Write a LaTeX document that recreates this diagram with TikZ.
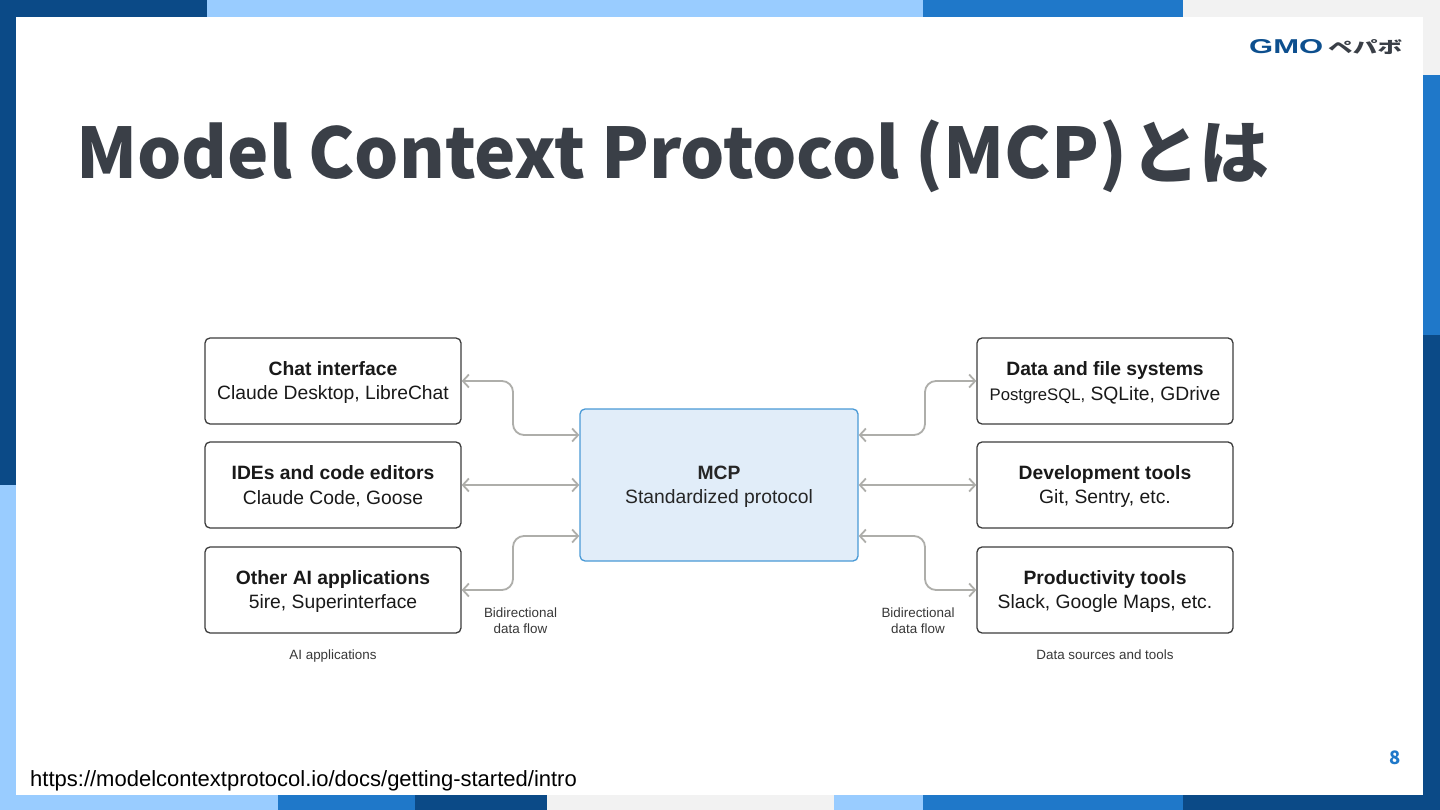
\documentclass[tikz,border=0pt]{standalone}
\usepackage{fontspec}
\usepackage{graphicx}
\setmainfont{Liberation Sans}
\newfontfamily\jpfont{Noto Sans CJK JP}
\usetikzlibrary{arrows.meta,calc}
\definecolor{bandDark}{HTML}{0B4A87}
\definecolor{bandMid}{HTML}{1F78C9}
\definecolor{bandLight}{HTML}{99CCFF}
\definecolor{bandGray}{HTML}{F2F2F2}
\definecolor{titleInk}{HTML}{3A3F47}
\definecolor{flowGray}{HTML}{AEAEAA}
\definecolor{mcpFill}{HTML}{E1EDF9}
\definecolor{mcpLine}{HTML}{4A9AD6}
\definecolor{boxLine}{HTML}{3C3C3C}
\def\topgap{\rule{0pt}{17pt}}
\tikzset{
	toolbox/.style={draw=boxLine, line width=1.3pt, rounded corners=5pt, minimum width=256pt, minimum height=86pt, inner sep=0pt, align=center, text=black!90, font=\fontsize{19.3}{24.8}\selectfont},
	mcpbox/.style={draw=mcpLine, fill=mcpFill, line width=1.3pt, rounded corners=5pt, minimum width=278pt, minimum height=152pt, inner sep=0pt, align=center, text=black!85, font=\fontsize{19.3}{24.8}\selectfont},
	flow/.style={draw=flowGray, line width=1.8pt, rounded corners=11pt, {Straight Barb[length=6pt,width=13pt]}-{Straight Barb[length=6pt,width=13pt]}},
	smalltext/.style={align=center, text=black!78, font=\fontsize{13.4}{16}\selectfont}
}
\begin{document}
\begin{tikzpicture}[x=1pt,y=-1pt]
	%%%%% FRAME %%%%%
	\useasboundingbox (0,0) rectangle (1440,810);
	\fill[white] (0,0) rectangle (1440,810);

	\fill[bandDark] (0,0) rectangle (207,17);
	\fill[bandLight] (207,0) rectangle (923,17);
	\fill[bandMid] (923,0) rectangle (1183,17);
	\fill[bandGray] (1183,0) rectangle (1440,17);

	\fill[bandDark] (0,0) rectangle (16,485);
	\fill[bandLight] (0,485) rectangle (16,810);

	\fill[bandGray] (1423,0) rectangle (1440,75);
	\fill[bandMid] (1423,75) rectangle (1440,335);
	\fill[bandDark] (1423,335) rectangle (1440,810);

	\fill[bandLight] (0,795) rectangle (278,810);
	\fill[bandMid] (278,795) rectangle (415,810);
	\fill[bandDark] (415,795) rectangle (547,810);
	\fill[bandGray] (547,795) rectangle (834,810);
	\fill[bandLight] (834,795) rectangle (923,810);
	\fill[bandMid] (923,795) rectangle (1183,810);
	\fill[bandDark] (1183,795) rectangle (1440,810);

	%%%%% HEADER %%%%%
	\node[anchor=base west, inner sep=0pt, text=titleInk, font=\jpfont\bfseries\fontsize{69.75}{80}\selectfont] (title) at (76,179) {Model Context Protocol (MCP)\hspace{3pt}とは};
	\node[anchor=west, inner sep=0pt, text=bandDark!90!bandMid] (logoa) at (1249,47) {\resizebox{74pt}{14pt}{\bfseries GMO}};
	\node[anchor=west, inner sep=0pt, text=titleInk] (logob) at (1328,47) {\resizebox{74pt}{14pt}{\jpfont\bfseries ペパボ}};

	%%%%% BOXES %%%%%
	\node[toolbox] (chat) at (333,381) {\topgap\textbf{Chat interface}\\Claude Desktop, LibreChat};
	\node[toolbox] (ide) at (333,485) {\topgap\textbf{IDEs and code editors}\\Claude Code, Goose};
	\node[toolbox] (other) at (333,590) {\topgap\textbf{Other AI applications}\\5ire, Superinterface};

	\node[mcpbox] (mcp) at (719,485) {\topgap\textbf{MCP}\\Standardized protocol};

	\node[toolbox] (data) at (1105,381) {\topgap\textbf{Data and file systems}\\{\fontsize{16.7}{24.8}\selectfont PostgreSQL,} SQLite, GDrive};
	\node[toolbox] (dev) at (1105,485) {\topgap\textbf{Development tools}\\Git, Sentry, etc.};
	\node[toolbox] (prod) at (1105,590) {\topgap\textbf{Productivity tools}\\Slack, Google Maps, etc.};

	%%%%% FLOWS %%%%%
	\coordinate (mcpwa) at ($(mcp.west)+(0,-50)$);
	\coordinate (mcpwb) at ($(mcp.west)+(0,51)$);
	\coordinate (mcpea) at ($(mcp.east)+(0,-50)$);
	\coordinate (mcpeb) at ($(mcp.east)+(0,51)$);

	\draw[flow] (chat.east) -- (513,381) -- (513,435) -- (mcpwa);
	\draw[flow] (ide.east) -- (mcp.west);
	\draw[flow] (other.east) -- (513,590) -- (513,536) -- (mcpwb);

	\draw[flow] (mcpea) -- (925,435) -- (925,381) -- (data.west);
	\draw[flow] (mcp.east) -- (dev.west);
	\draw[flow] (mcpeb) -- (925,536) -- (925,590) -- (prod.west);

	%%%%% LABELS %%%%%
	\node[smalltext] (flowl) at (520.5,621) {Bidirectional\\data flow};
	\node[smalltext] (flowr) at (918,621) {Bidirectional\\data flow};
	\node[smalltext, anchor=base] (apps) at (333,659.5) {AI applications};
	\node[smalltext, anchor=base] (sources) at (1105,659.5) {Data sources and tools};

	%%%%% FOOTER %%%%%
	\node[anchor=base west, inner sep=0pt, text=black, font=\fontsize{22}{24}\selectfont] (url) at (30,786) {https://modelcontextprotocol.io/docs/getting-started/intro};
	\node[anchor=base, inner sep=0pt, text=bandMid, font=\jpfont\bfseries\fontsize{18.5}{20}\selectfont] (page) at (1395.5,764) {8};
\end{tikzpicture}
\end{document}
